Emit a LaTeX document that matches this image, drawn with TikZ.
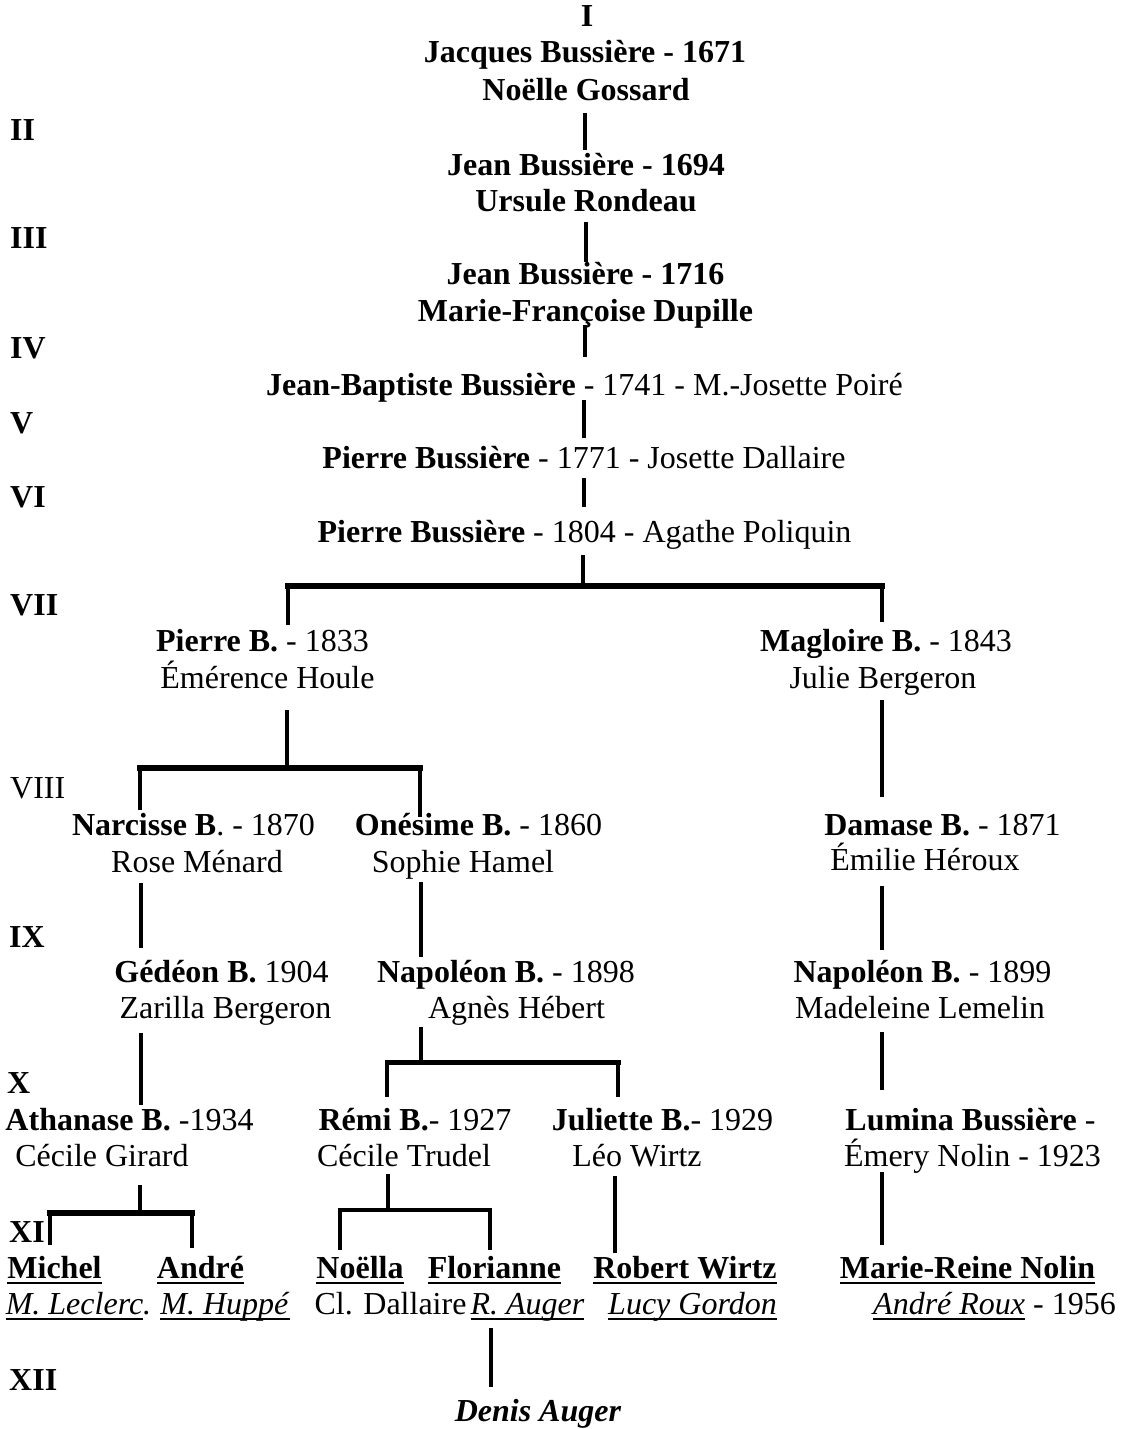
\documentclass[tikz,border=0pt]{standalone}
\usepackage{fontspec}
\setmainfont{Liberation Serif}
\newcommand\myul[1]{\setbox0\hbox{#1}\rlap{\vrule height -3.5pt depth 5.5pt width \wd0}\box0\relax}
\begin{document}
\begin{tikzpicture}[x=1pt,y=-1pt,
  every node/.style={font=\fontsize{32}{38}\selectfont, inner sep=0pt, text height=24pt, text depth=9pt},
  t/.style={anchor=base},
  gen/.style={anchor=base west, font=\fontsize{32}{38}\selectfont\bfseries},
  conn/.style={line width=4pt},
  bar/.style={line width=6pt, line cap=rect},
  thinbar/.style={line width=4.5pt, line cap=rect}]
\useasboundingbox (0,0) rectangle (1124,1429);
\fill[white] (0,0) rectangle (1124,1429);

% generation numerals
\node[t] (gI) at (587,27) {\textbf{I}};
\node[gen] (gII) at (10,140) {II};
\node[gen] (gIII) at (10,248) {III};
\node[gen] (gIV) at (10,358) {IV};
\node[gen] (gV) at (10,433) {V};
\node[gen] (gVI) at (10,507) {VI};
\node[gen] (gVII) at (10,615) {VII};
\node[gen, font=\fontsize{32}{38}\selectfont] (gVIII) at (10,798) {VIII};
\node[gen] (gIX) at (9,947) {IX};
\node[gen] (gX) at (7,1093) {X};
\node[gen] (gXI) at (9,1242) {XI};
\node[gen] (gXII) at (9,1390) {XII};

% persons
\node[t] (p1) at (585,63) {\textbf{Jacques Bussière - 1671}};
\node[t] (p1s) at (586,100) {\textbf{Noëlle Gossard}};
\node[t] (p2) at (586,175) {\textbf{Jean Bussière - 1694}};
\node[t] (p2s) at (586,211) {\textbf{Ursule Rondeau}};
\node[t] (p3) at (585.5,284) {\textbf{Jean Bussière - 1716}};
\node[t] (p3s) at (585.5,321) {\textbf{Marie-Françoise Dupille}};
\node[t] (p4) at (584.5,395) {\textbf{Jean-Baptiste Bussière} - 1741 - M.-Josette Poiré};
\node[t] (p5) at (584,468) {\textbf{Pierre Bussière} - 1771 - Josette Dallaire};
\node[t] (p6) at (584.5,542) {\textbf{Pierre Bussière} - 1804 - Agathe Poliquin};
\node[t] (p7a) at (262.5,651) {\textbf{Pierre B.} - 1833};
\node[t] (p7as) at (267.5,688) {Émérence Houle};
\node[t] (p7b) at (886,651) {\textbf{Magloire B.} - 1843};
\node[t] (p7bs) at (883,688) {Julie Bergeron};
\node[t] (p8a) at (193.5,835) {\textbf{Narcisse B}. - 1870};
\node[t] (p8as) at (197,872) {Rose Ménard};
\node[t] (p8b) at (478.5,835) {\textbf{Onésime B.} - 1860};
\node[t] (p8bs) at (463,872) {Sophie Hamel};
\node[t] (p8c) at (942.5,835) {\textbf{Damase B.} - 1871};
\node[t] (p8cs) at (925,870) {Émilie Héroux};
\node[t] (p9a) at (221.5,982) {\textbf{Gédéon B.} 1904};
\node[t] (p9as) at (225.5,1018) {Zarilla Bergeron};
\node[t] (p9b) at (506,982) {\textbf{Napoléon B.} - 1898};
\node[t] (p9bs) at (516.5,1018) {Agnès Hébert};
\node[t] (p9c) at (922.5,982) {\textbf{Napoléon B.} - 1899};
\node[t] (p9cs) at (920,1018) {Madeleine Lemelin};
\node[t] (p10a) at (129.5,1130) {\textbf{Athanase B.} -1934};
\node[t] (p10as) at (102,1166) {Cécile Girard};
\node[t] (p10b) at (415,1130) {\textbf{Rémi B.}- 1927};
\node[t] (p10bs) at (404,1166) {Cécile Trudel};
\node[t] (p10c) at (662.5,1130) {\textbf{Juliette B.}- 1929};
\node[t] (p10cs) at (637,1166) {Léo Wirtz};
\node[t] (p10d) at (970.5,1130) {\textbf{Lumina Bussière} -};
\node[t] (p10ds) at (972.5,1166) {Émery Nolin - 1923};
\node[t] (p11a) at (54.5,1278) {\myul{\textbf{Michel}}};
\node[t] (p11b) at (200.5,1278) {\myul{\textbf{André}}};
\node[t] (p11c) at (360,1278) {\myul{\textbf{Noëlla}}};
\node[t] (p11d) at (494.5,1278) {\myul{\textbf{Florianne}}};
\node[t] (p11e) at (685,1278) {\myul{\textbf{Robert Wirtz}}};
\node[t] (p11f) at (967.5,1278) {\myul{\textbf{Marie-Reine Nolin}}};
\node[t] (p11as) at (78.5,1314) {\myul{\textit{M. Leclerc}}\textit{.}};
\node[t] (p11bs) at (225,1314) {\myul{\textit{M. Huppé}}};
\node[t] (p11cs) at (390.5,1314) {Cl. Dallaire};
\node[t] (p11ds) at (527.5,1314) {\myul{\textit{R. Auger}}};
\node[t] (p11es) at (692.5,1314) {\myul{\textit{Lucy Gordon}}};
\node[t] (p11fs) at (994.5,1314) {\myul{\textit{André Roux}} - 1956};
\node[t] (p12) at (538,1421) {\textbf{\textit{Denis Auger}}};

% x positions of connectors
\coordinate (v585) at (585,0);
\coordinate (v586) at (586,0);
\coordinate (v584) at (584,0);
\coordinate (v882) at (882,0);
\coordinate (v141) at (141,0);
\coordinate (v421) at (421,0);
\coordinate (v615) at (615,0);
\coordinate (v491) at (491,0);

% top chain
\draw[conn, shorten <=4pt, shorten >=1pt] (p1s.south -| v585) -- (p2.north -| v585);
\draw[conn, shorten <=2pt, shorten >=-2pt] (p2s.south -| v586) -- (p3.north -| v586);
\draw[conn, shorten <=-5pt, shorten >=14pt] (p3s.south -| v585) -- (p4.north -| v585);
\draw[conn, shorten <=-4pt, shorten >=6pt] (p4.south -| v584) -- (p5.north -| v584);
\draw[conn, shorten <=1pt, shorten >=11pt] (p5.south -| v584) -- (p6.north -| v584);

% fork VI -> VII
\coordinate (j6) at (583,586);
\coordinate (k7a) at (288,586);
\coordinate (k7b) at (882,586);
\draw[conn, shorten <=4pt] (p6.south -| j6) -- (j6);
\draw[bar] (k7a) -- (k7b);
\draw[conn, shorten >=2pt] (k7a) -- (k7a |- p7a.north);
\draw[conn, shorten >=5pt] (k7b) -- (k7b |- p7b.north);

% fork Pierre B. -> VIII
\coordinate (j7a) at (287,768);
\coordinate (k8a) at (140,768);
\coordinate (k8b) at (420,768);
\draw[conn, shorten <=13pt] (p7as.south -| j7a) -- (j7a);
\draw[bar] (k8a) -- (k8b);
\draw[conn, shorten >=1pt] (k8a) -- (k8a |- p8a.north);
\draw[conn, shorten >=-6pt] (k8b) -- (k8b |- p8b.north);

% Magloire -> Damase
\draw[conn, shorten <=3pt, shorten >=14pt] (p7bs.south -| v882) -- (p8c.north -| v882);

% VIII -> IX
\draw[conn, shorten <=2pt, shorten >=10pt] (p8as.south -| v141) -- (p9a.north -| v141);
\draw[conn, shorten <=1pt, shorten >=1pt] (p8bs.south -| v421) -- (p9b.north -| v421);
\draw[conn, shorten <=7pt, shorten >=8pt] (p8cs.south -| v882) -- (p9c.north -| v882);

% IX -> X
\draw[conn, shorten <=6pt, shorten >=1pt] (p9as.south -| v141) -- (p10a.north -| v141);
\coordinate (j9b) at (421,1062);
\coordinate (k10b) at (387,1062);
\coordinate (k10c) at (618,1062);
\draw[conn] (p9bs.south -| j9b) -- (j9b);
\draw[bar, line width=5pt] (k10b) -- (k10c);
\draw[conn, shorten >=9pt] (k10b) -- (k10b |- p10b.north);
\draw[conn, shorten >=9pt] (k10c) -- (k10c |- p10c.north);
\draw[conn, shorten <=5pt, shorten >=16pt] (p9cs.south -| v882) -- (p10d.north -| v882);

% X -> XI
\coordinate (j10a) at (140,1213);
\coordinate (k11a) at (50,1213);
\coordinate (k11b) at (192,1213);
\draw[conn, shorten <=10pt] (p10as.south -| j10a) -- (j10a);
\draw[bar] (k11a) -- (k11b);
\draw[conn, shorten >=9pt] (k11a) -- (k11a |- p11a.north);
\draw[conn, shorten >=6pt] (k11b) -- (k11b |- p11b.north);

\coordinate (j10b) at (388,1210);
\coordinate (k11c) at (340,1210);
\coordinate (k11d) at (490,1210);
\draw[conn, shorten <=-1pt] (p10bs.south -| j10b) -- (j10b);
\draw[thinbar] (k11c) -- (k11d);
\draw[conn, shorten >=4pt] (k11c) -- (k11c |- p11c.north);
\draw[conn, shorten >=4pt] (k11d) -- (k11d |- p11d.north);

\draw[conn, shorten <=1pt, shorten >=1pt] (p10cs.south -| v615) -- (p11e.north -| v615);
\draw[conn, shorten <=-3pt, shorten >=9pt] (p10ds.south -| v882) -- (p11f.north -| v882);

% XI -> XII
\draw[conn, shorten <=5pt, shorten >=10pt] (p11ds.south -| v491) -- (p12.north -| v491);
\end{tikzpicture}
\end{document}
